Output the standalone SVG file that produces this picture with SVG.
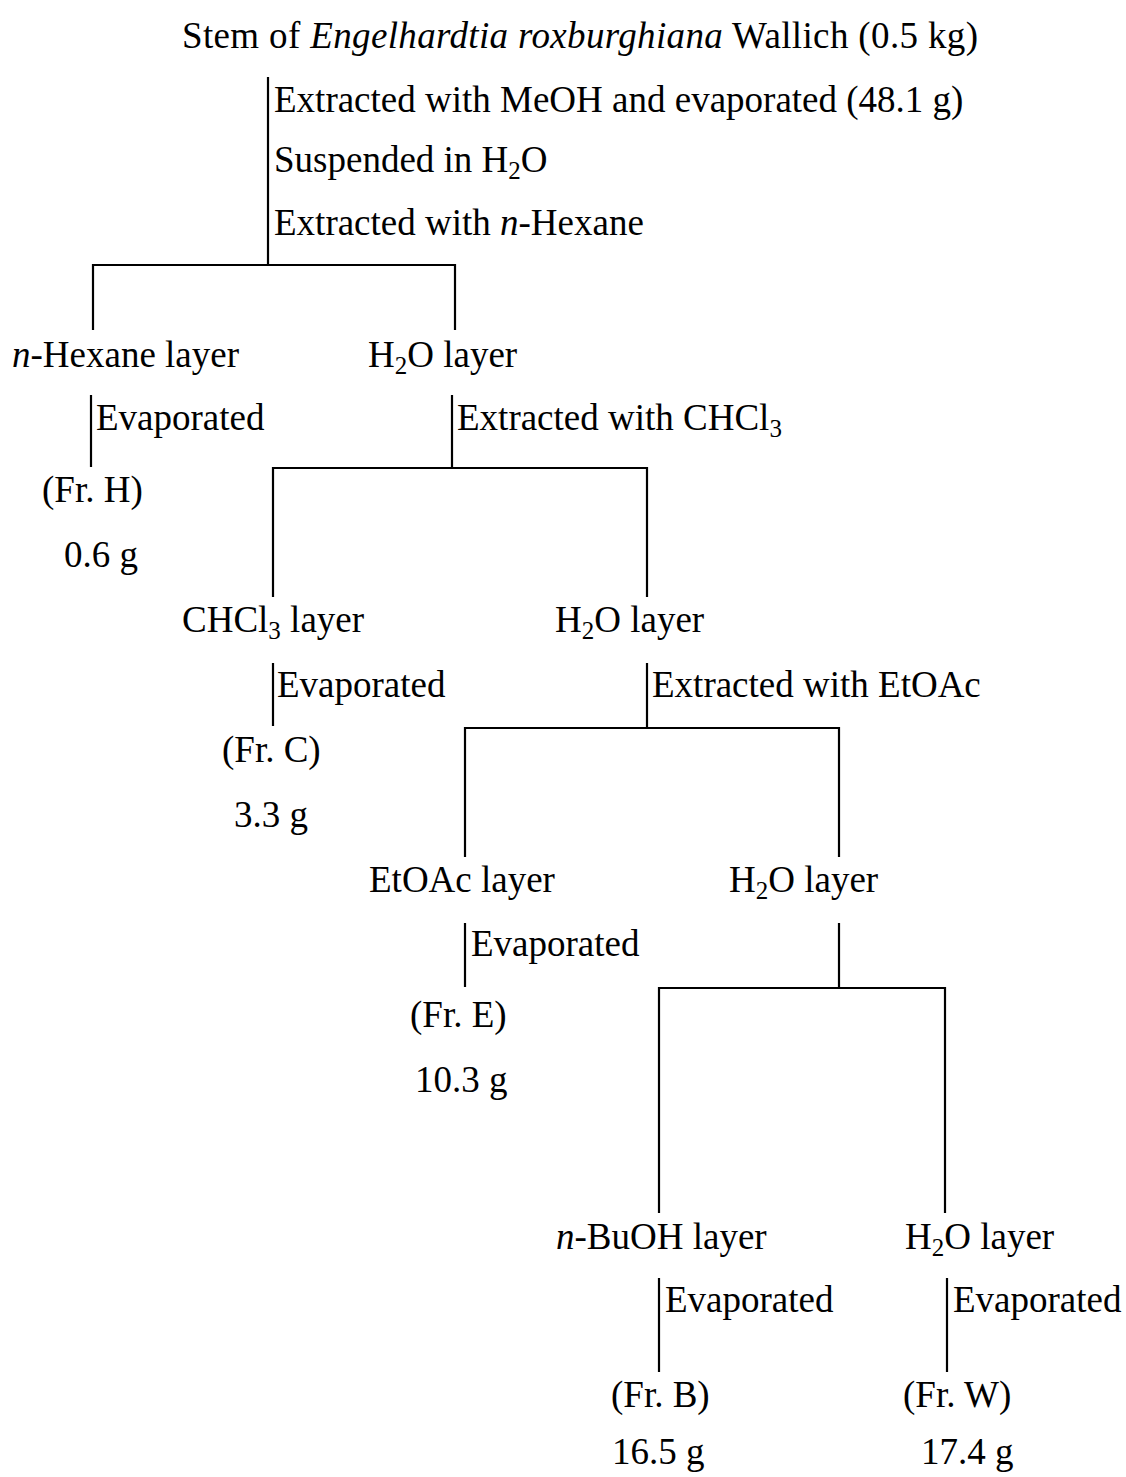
<svg xmlns="http://www.w3.org/2000/svg" width="1126" height="1477" viewBox="0 0 1126 1477">
<style>
text{font-family:"Liberation Serif","Times New Roman",serif;font-size:37px;fill:#000}
.i{font-style:italic}
.s{font-size:25px}
line{stroke:#000;stroke-width:2.2}
</style>
<rect width="1126" height="1477" fill="#fff"/>
<g id="connectors">
<line x1="268" y1="77" x2="268" y2="265"/>
<line x1="92" y1="265" x2="456" y2="265"/>
<line x1="93" y1="264" x2="93" y2="330"/>
<line x1="455" y1="264" x2="455" y2="330"/>
<line x1="91" y1="395" x2="91" y2="467"/>
<line x1="452" y1="395" x2="452" y2="468"/>
<line x1="272" y1="468" x2="648" y2="468"/>
<line x1="273" y1="467" x2="273" y2="597"/>
<line x1="647" y1="467" x2="647" y2="597"/>
<line x1="273" y1="663" x2="273" y2="726"/>
<line x1="647" y1="663" x2="647" y2="728"/>
<line x1="464" y1="728" x2="840" y2="728"/>
<line x1="465" y1="727" x2="465" y2="857"/>
<line x1="839" y1="727" x2="839" y2="857"/>
<line x1="465" y1="923" x2="465" y2="987"/>
<line x1="839" y1="923" x2="839" y2="988"/>
<line x1="658" y1="988" x2="946" y2="988"/>
<line x1="659" y1="987" x2="659" y2="1213"/>
<line x1="945" y1="987" x2="945" y2="1213"/>
<line x1="659" y1="1278" x2="659" y2="1372"/>
<line x1="947" y1="1278" x2="947" y2="1372"/>
</g>
<g id="stem"><text x="182" y="48" textLength="796">Stem of <tspan class="i">Engelhardtia roxburghiana</tspan> Wallich (0.5 kg)</text></g>
<g id="step1">
<text x="274" y="112">Extracted with MeOH and evaporated (48.1 g)</text>
<text x="274" y="172">Suspended in H<tspan class="s" dy="7">2</tspan><tspan dy="-7">O</tspan></text>
<text x="274" y="235">Extracted with <tspan class="i">n</tspan>-Hexane</text>
</g>
<g id="hexane-layer"><text x="12" y="367"><tspan class="i">n</tspan>-Hexane layer</text></g>
<g id="h2o-layer-1"><text x="368" y="367">H<tspan class="s" dy="7">2</tspan><tspan dy="-7">O layer</tspan></text></g>
<g id="evap-h"><text x="96" y="430">Evaporated</text></g>
<g id="chcl3-step"><text x="457" y="430">Extracted with CHCl<tspan class="s" dy="7">3</tspan></text></g>
<g id="fr-h"><text x="42" y="502">(Fr. H)</text><text x="64" y="567">0.6 g</text></g>
<g id="chcl3-layer"><text x="182" y="632">CHCl<tspan class="s" dy="7">3</tspan><tspan dy="-7"> layer</tspan></text></g>
<g id="h2o-layer-2"><text x="555" y="632">H<tspan class="s" dy="7">2</tspan><tspan dy="-7">O layer</tspan></text></g>
<g id="evap-c"><text x="277" y="697">Evaporated</text></g>
<g id="etoac-step"><text x="652" y="697">Extracted with EtOAc</text></g>
<g id="fr-c"><text x="222" y="762">(Fr. C)</text><text x="234" y="827">3.3 g</text></g>
<g id="etoac-layer"><text x="369" y="892">EtOAc layer</text></g>
<g id="h2o-layer-3"><text x="729" y="892">H<tspan class="s" dy="7">2</tspan><tspan dy="-7">O layer</tspan></text></g>
<g id="evap-e"><text x="471" y="956">Evaporated</text></g>
<g id="fr-e"><text x="410" y="1027">(Fr. E)</text><text x="415" y="1092">10.3 g</text></g>
<g id="buoh-layer"><text x="556" y="1249"><tspan class="i">n</tspan>-BuOH layer</text></g>
<g id="h2o-layer-4"><text x="905" y="1249">H<tspan class="s" dy="7">2</tspan><tspan dy="-7">O layer</tspan></text></g>
<g id="evap-b"><text x="665" y="1312">Evaporated</text></g>
<g id="evap-w"><text x="953" y="1312">Evaporated</text></g>
<g id="fr-b"><text x="611" y="1407">(Fr. B)</text><text x="612" y="1464">16.5 g</text></g>
<g id="fr-w"><text x="903" y="1407">(Fr. W)</text><text x="921" y="1464">17.4 g</text></g>
</svg>
